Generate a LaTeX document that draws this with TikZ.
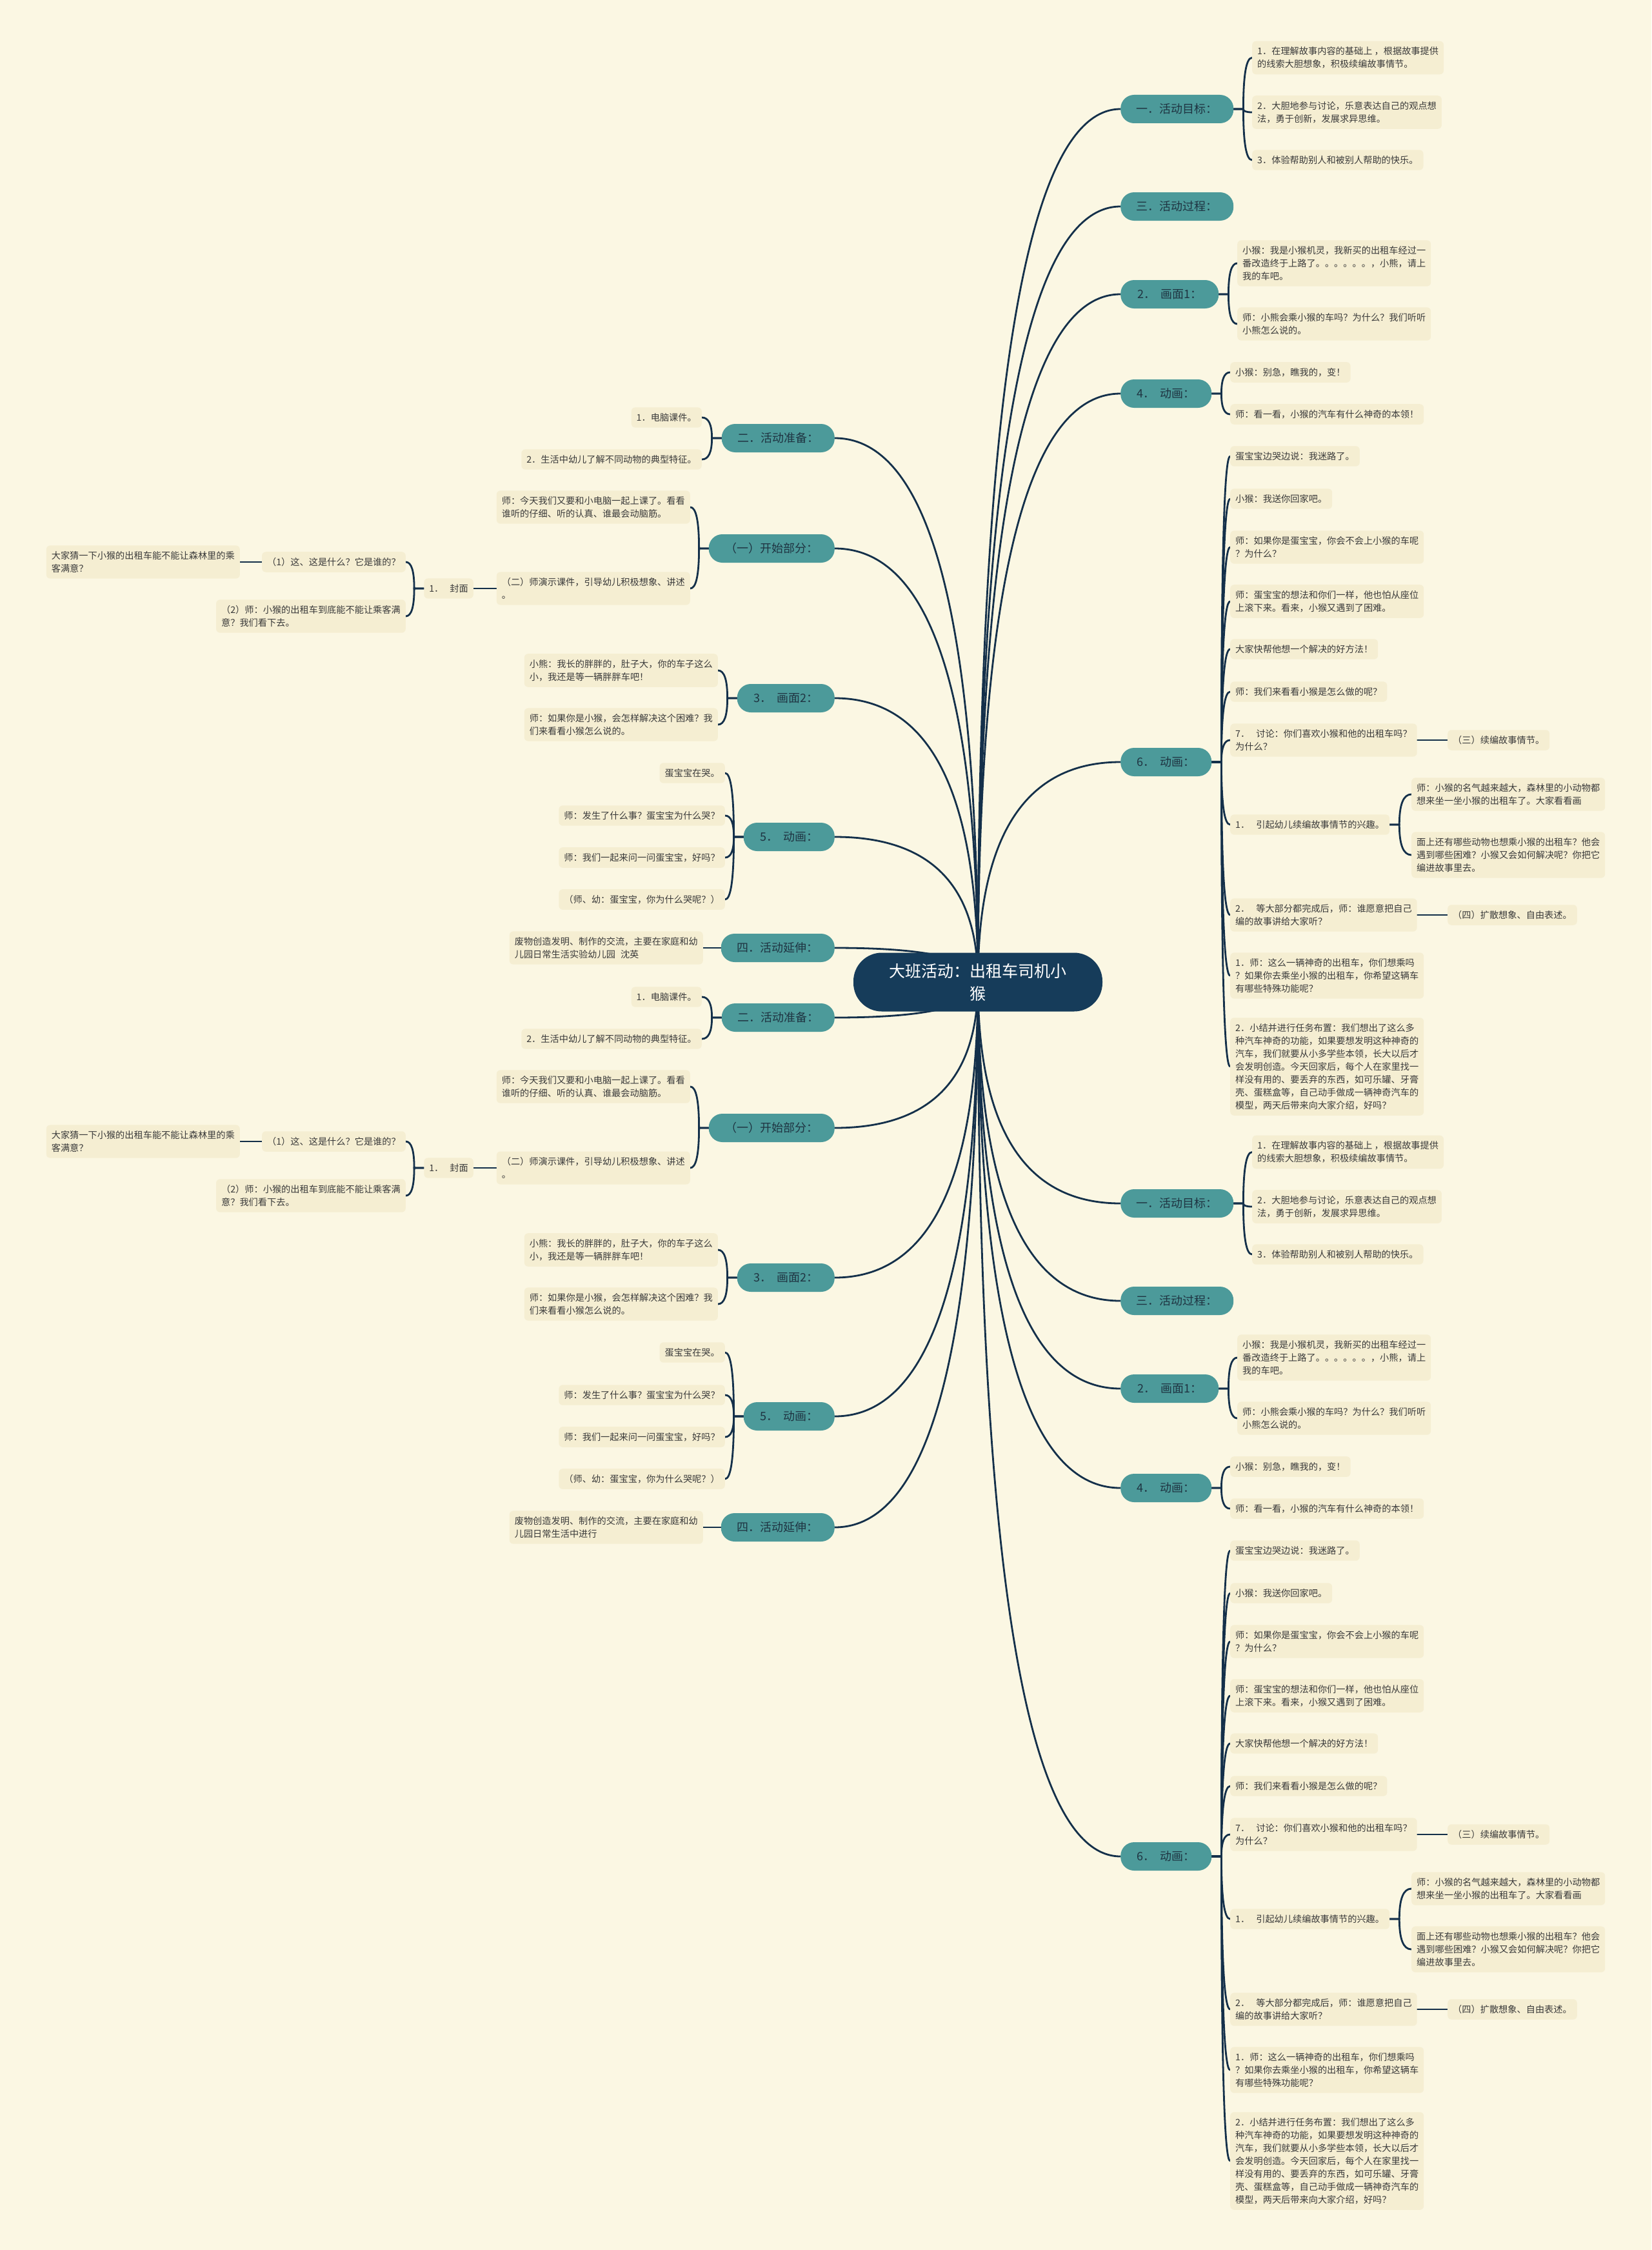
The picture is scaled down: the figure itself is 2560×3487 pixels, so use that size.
\documentclass[tikz,border=0pt]{standalone}
\usepackage{fontspec}
\setmainfont{Noto Sans CJK SC}
\usetikzlibrary{calc}
\definecolor{cbg}{HTML}{FBF7E3}
\definecolor{cleaf}{HTML}{F5EED2}
\definecolor{cteal}{HTML}{4C9A9A}
\definecolor{cnavy}{HTML}{163C5A}
\definecolor{cline}{HTML}{14304A}
\definecolor{clvltext}{HTML}{1F3442}
\definecolor{cleaftext}{HTML}{3A3A3A}
\pgfdeclarelayer{bg}
\pgfdeclarelayer{lines}
\pgfsetlayers{bg,lines,main}
\tikzset{
  conn/.style={draw=cline, line width=2.8pt, line cap=round},
  central/.style={fill=cnavy, text=white, rounded corners=44pt, minimum width=386pt, minimum height=91pt, inner sep=0pt, align=center, font=\fontsize{25}{35}\selectfont},
  lvl/.style={fill=cteal, text=clvltext, rounded corners=21pt, minimum height=44pt, inner xsep=18pt, inner ysep=0pt, font=\fontsize{18}{22}\selectfont},
  leaf/.style={fill=cleaf, text=cleaftext, rounded corners=6pt, inner xsep=8pt, inner ysep=9pt, align=left, font=\fontsize{14.2}{20}\selectfont},
}
\newcommand\linkC[1]{\draw[conn] (C.center) .. controls ($(C.center)!0.6667!(C.center |- #1)$) and ($(#1)!0.6667!(C.center |- #1)$) .. (#1);}
\newcommand\linkR[2]{\draw[conn] let \p1=(#1.east), \p2=(#2.west) in (\p1) -- (\x1+15,\y1) .. controls (\x1+15,{\y1+0.6667*(\y2-\y1)}) and ({\x2-0.6667*(\x2-\x1-15)},\y2) .. (\p2);}
\newcommand\linkL[2]{\draw[conn] let \p1=(#1.west), \p2=(#2.east) in (\p1) -- (\x1-15,\y1) .. controls (\x1-15,{\y1+0.6667*(\y2-\y1)}) and ({\x2+0.6667*(\x1-15-\x2)},\y2) .. (\p2);}

% right half: #1 offset, #2 suffix
\newcommand\RightHalf[2]{%
  \node[lvl,anchor=west,minimum width=175pt] (R1#2) at (1737,{169+#1}) {一．活动目标：};
  \node[leaf,anchor=west] (R1a#2) at (1941,{89.5+#1}) {1．在理解故事内容的基础上 ，根据故事提供\\的线索大胆想象，积极续编故事情节。};
  \node[leaf,anchor=west] (R1b#2) at (1941,{174+#1}) {2．大胆地参与讨论，乐意表达自己的观点想\\法，勇于创新，发展求异思维。};
  \node[leaf,anchor=west] (R1c#2) at (1941,{248+#1}) {3．体验帮助别人和被别人帮助的快乐。};
  \node[lvl,anchor=west,minimum width=175pt] (R3#2) at (1737,{320+#1}) {三．活动过程：};
  \node[lvl,anchor=west,minimum width=152pt] (R2#2) at (1737,{456+#1}) {2．\hspace{8pt}画面1：};
  \node[leaf,anchor=west] (R2a#2) at (1918,{408+#1}) {小猴：我是小猴机灵，我新买的出租车经过一\\番改造终于上路了。。。。。。，小熊，请上\\我的车吧。};
  \node[leaf,anchor=west] (R2b#2) at (1918,{502+#1}) {师：小熊会乘小猴的车吗？为什么？我们听听\\小熊怎么说的。};
  \node[lvl,anchor=west,minimum width=141pt] (R4#2) at (1737,{610+#1}) {4．\hspace{8pt}动画：};
  \node[leaf,anchor=west] (R4a#2) at (1907,{577+#1}) {小猴：别急，瞧我的，变！};
  \node[leaf,anchor=west] (R4b#2) at (1907,{642+#1}) {师：看一看，小猴的汽车有什么神奇的本领！};
  \node[lvl,anchor=west,minimum width=141pt] (R6#2) at (1737,{1181+#1}) {6．\hspace{8pt}动画：};
  \node[leaf,anchor=west] (R6a#2) at (1907,{707+#1}) {蛋宝宝边哭边说：我迷路了。};
  \node[leaf,anchor=west] (R6b#2) at (1907,{773+#1}) {小猴：我送你回家吧。};
  \node[leaf,anchor=west] (R6c#2) at (1907,{848+#1}) {师：如果你是蛋宝宝，你会不会上小猴的车呢\\？为什么？};
  \node[leaf,anchor=west] (R6d#2) at (1907,{932+#1}) {师：蛋宝宝的想法和你们一样，他也怕从座位\\上滚下来。看来，小猴又遇到了困难。};
  \node[leaf,anchor=west] (R6e#2) at (1907,{1006+#1}) {大家快帮他想一个解决的好方法！};
  \node[leaf,anchor=west] (R6f#2) at (1907,{1072+#1}) {师：我们来看看小猴是怎么做的呢？};
  \node[leaf,anchor=west] (R6g#2) at (1907,{1147+#1}) {7．\hspace{10pt}讨论：你们喜欢小猴和他的出租车吗？\\为什么？};
  \node[leaf,anchor=west] (R6gx#2) at (2244,{1147+#1}) {（三）续编故事情节。};
  \node[leaf,anchor=west] (R6h#2) at (1907,{1278+#1}) {1．\hspace{10pt}引起幼儿续编故事情节的兴趣。};
  \node[leaf,anchor=west] (R6hx#2) at (2188,{1231+#1}) {师：小猴的名气越来越大，森林里的小动物都\\想来坐一坐小猴的出租车了。大家看看画};
  \node[leaf,anchor=west] (R6hy#2) at (2188,{1325+#1}) {面上还有哪些动物也想乘小猴的出租车？他会\\遇到哪些困难？小猴又会如何解决呢？你把它\\编进故事里去。};
  \node[leaf,anchor=west] (R6i#2) at (1907,{1418+#1}) {2．\hspace{10pt}等大部分都完成后，师：谁愿意把自己\\编的故事讲给大家听？};
  \node[leaf,anchor=west] (R6ix#2) at (2244,{1418+#1}) {（四）扩散想象、自由表述。};
  \node[leaf,anchor=west] (R6j#2) at (1907,{1512+#1}) {1．师：这么一辆神奇的出租车，你们想乘吗\\？如果你去乘坐小猴的出租车，你希望这辆车\\有哪些特殊功能呢？};
  \node[leaf,anchor=west] (R6k#2) at (1907,{1653+#1}) {2．小结并进行任务布置：我们想出了这么多\\种汽车神奇的功能，如果要想发明这种神奇的\\汽车，我们就要从小多学些本领，长大以后才\\会发明创造。今天回家后，每个人在家里找一\\样没有用的、要丢弃的东西，如可乐罐、牙膏\\壳、蛋糕盒等，自己动手做成一辆神奇汽车的\\模型，两天后带来向大家介绍，好吗？};
}
\newcommand\RightLinks[1]{%
  \linkC{R1#1.west}\linkC{R3#1.west}\linkC{R2#1.west}\linkC{R4#1.west}\linkC{R6#1.west}
  \linkR{R1#1}{R1a#1}\linkR{R1#1}{R1b#1}\linkR{R1#1}{R1c#1}
  \linkR{R2#1}{R2a#1}\linkR{R2#1}{R2b#1}
  \linkR{R4#1}{R4a#1}\linkR{R4#1}{R4b#1}
  \linkR{R6#1}{R6a#1}\linkR{R6#1}{R6b#1}\linkR{R6#1}{R6c#1}\linkR{R6#1}{R6d#1}
  \linkR{R6#1}{R6e#1}\linkR{R6#1}{R6f#1}\linkR{R6#1}{R6g#1}\linkR{R6#1}{R6h#1}
  \linkR{R6#1}{R6i#1}\linkR{R6#1}{R6j#1}\linkR{R6#1}{R6k#1}
  \linkR{R6g#1}{R6gx#1}\linkR{R6h#1}{R6hx#1}\linkR{R6h#1}{R6hy#1}\linkR{R6i#1}{R6ix#1}
}
% left half: #1 offset, #2 suffix, #3 last text
\newcommand\LeftHalf[3]{%
  \node[lvl,anchor=east,minimum width=175pt] (L2#2) at (1294,{679+#1}) {二．活动准备：};
  \node[leaf,anchor=east] (L2a#2) at (1088,{647+#1}) {1．电脑课件。};
  \node[leaf,anchor=east] (L2b#2) at (1088,{712+#1}) {2．生活中幼儿了解不同动物的典型特征。};
  \node[lvl,anchor=east,minimum width=195pt] (L1#2) at (1294,{850+#1}) {（一）开始部分：};
  \node[leaf,anchor=east] (L1a#2) at (1070,{786+#1}) {师：今天我们又要和小电脑一起上课了。看看\\谁听的仔细、听的认真、谁最会动脑筋。};
  \node[leaf,anchor=east] (L1b#2) at (1070,{912+#1}) {（二）师演示课件，引导幼儿积极想象、讲述\\。};
  \node[leaf,anchor=east] (FM#2) at (734,{912+#1}) {1．\hspace{10pt}封面};
  \node[leaf,anchor=east] (FMa#2) at (629,{871+#1}) {（1）这、这是什么？它是谁的？};
  \node[leaf,anchor=east] (FMaa#2) at (372,{871+#1}) {大家猜一下小猴的出租车能不能让森林里的乘\\客满意？};
  \node[leaf,anchor=east] (FMb#2) at (629,{955+#1}) {（2）师：小猴的出租车到底能不能让乘客满\\意？我们看下去。};
  \node[lvl,anchor=east,minimum width=151pt] (L3#2) at (1294,{1082+#1}) {3．\hspace{8pt}画面2：};
  \node[leaf,anchor=east] (L3a#2) at (1113,{1039+#1}) {小熊：我长的胖胖的，肚子大，你的车子这么\\小，我还是等一辆胖胖车吧！};
  \node[leaf,anchor=east] (L3b#2) at (1113,{1123+#1}) {师：如果你是小猴，会怎样解决这个困难？我\\们来看看小猴怎么说的。};
  \node[lvl,anchor=east,minimum width=141pt] (L5#2) at (1294,{1297+#1}) {5．\hspace{8pt}动画：};
  \node[leaf,anchor=east] (L5a#2) at (1124,{1198+#1}) {蛋宝宝在哭。};
  \node[leaf,anchor=east] (L5b#2) at (1124,{1264+#1}) {师：发生了什么事？蛋宝宝为什么哭？};
  \node[leaf,anchor=east] (L5c#2) at (1124,{1329+#1}) {师：我们一起来问一问蛋宝宝，好吗？};
  \node[leaf,anchor=east] (L5d#2) at (1124,{1394+#1}) {（师、幼：蛋宝宝，你为什么哭呢？）};
  \node[lvl,anchor=east,minimum width=176pt] (L4#2) at (1294,{1469+#1}) {四．活动延伸：};
  \node[leaf,anchor=east] (L4a#2) at (1090,{1469+#1}) {废物创造发明、制作的交流，主要在家庭和幼\\#3};
}
\newcommand\LeftLinks[1]{%
  \linkC{L2#1.east}\linkC{L1#1.east}\linkC{L3#1.east}\linkC{L5#1.east}\linkC{L4#1.east}
  \linkL{L2#1}{L2a#1}\linkL{L2#1}{L2b#1}
  \linkL{L1#1}{L1a#1}\linkL{L1#1}{L1b#1}
  \linkL{L1b#1}{FM#1}
  \linkL{FM#1}{FMa#1}\linkL{FM#1}{FMb#1}
  \linkL{FMa#1}{FMaa#1}
  \linkL{L3#1}{L3a#1}\linkL{L3#1}{L3b#1}
  \linkL{L5#1}{L5a#1}\linkL{L5#1}{L5b#1}\linkL{L5#1}{L5c#1}\linkL{L5#1}{L5d#1}
  \linkL{L4#1}{L4a#1}
}
\begin{document}
\begin{tikzpicture}[x=1pt,y=-1pt]
\useasboundingbox (0,0) rectangle (2560,3487);
\begin{pgfonlayer}{bg}
\fill[cbg] (0,0) rectangle (2560,3487);
\end{pgfonlayer}
\node[central] (C) at (1516,1522) {大班活动：出租车司机小\\猴};
\RightHalf{0}{-1}
\RightHalf{1696}{-2}
\LeftHalf{0}{-1}{儿园日常生活实验幼儿园\hspace{8pt}沈英}
\LeftHalf{898}{-2}{儿园日常生活中进行}
\begin{pgfonlayer}{lines}
\RightLinks{-1}
\RightLinks{-2}
\LeftLinks{-1}
\LeftLinks{-2}
\end{pgfonlayer}
\end{tikzpicture}
\end{document}
